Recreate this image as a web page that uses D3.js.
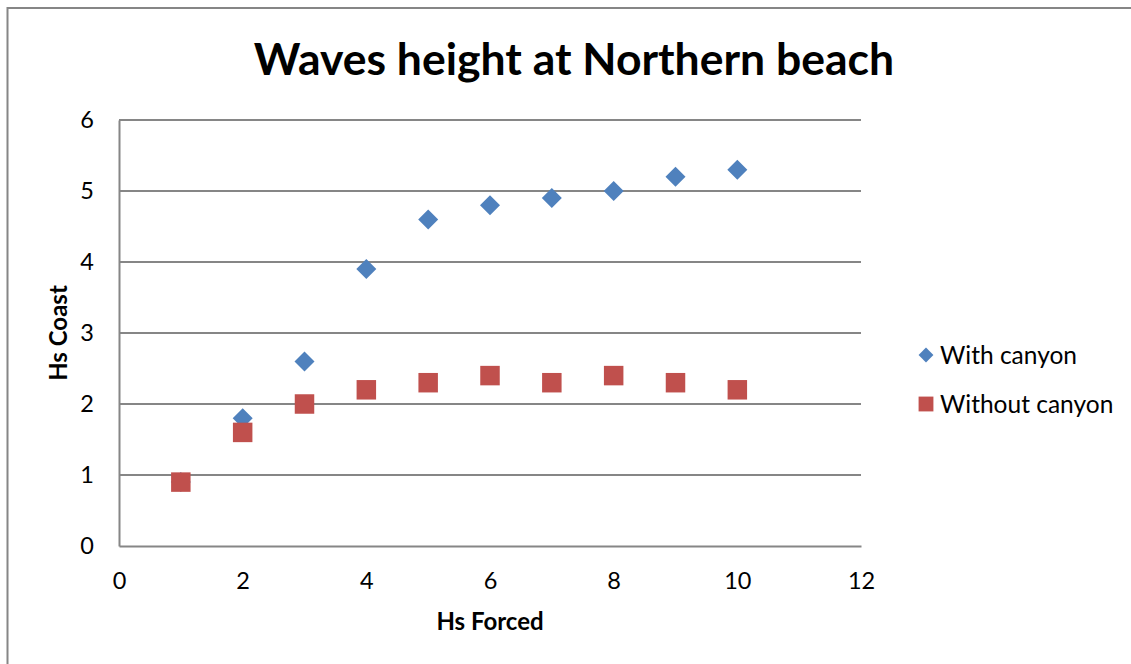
<!DOCTYPE html>
<html>
<head>
<meta charset="utf-8">
<script src="https://cdn.jsdelivr.net/npm/d3@7"></script>
<style>
  body { margin: 0; background: #fff; }
  text { font-family: Lato, "Open Sans", sans-serif; fill: #000; }
</style>
</head>
<body>
<div id="chart"></div>
<script>
// Data
const hsForced = [1, 2, 3, 4, 5, 6, 7, 8, 9, 10];
const withCanyon = [0.9, 1.8, 2.6, 3.9, 4.6, 4.8, 4.9, 5.0, 5.2, 5.3];
const withoutCanyon = [0.9, 1.6, 2.0, 2.2, 2.3, 2.4, 2.3, 2.4, 2.3, 2.2];
const xTicks = [0, 2, 4, 6, 8, 10, 12];
const yTicks = [0, 1, 2, 3, 4, 5, 6];

const width = 1131;
const height = 664;
const margin = { top: 120, right: 270, bottom: 118, left: 119 };

const svg = d3.select("#chart")
    .append("svg")
    .attr("width", width)
    .attr("height", height);

// outer chart border
svg.append("rect")
    .attr("x", 7.5).attr("y", 8)
    .attr("width", 1140).attr("height", 700)
    .attr("fill", "none")
    .attr("stroke", "#868686")
    .attr("stroke-width", 2);

const xScale = d3.scaleLinear()
    .domain([0, 12])
    .range([margin.left, width - margin.right]);

const yScale = d3.scaleLinear()
    .domain([0, 6])
    .range([height - margin.bottom, margin.top]);

// gridlines
svg.append("g")
    .selectAll("line")
    .data(yTicks.filter(d => d > 0))
    .enter()
    .append("line")
    .attr("x1", xScale(0)).attr("x2", xScale(12))
    .attr("y1", d => yScale(d)).attr("y2", d => yScale(d))
    .attr("stroke", "#868686")
    .attr("stroke-width", 2);

// axes
const xAxis = svg.append("g")
    .attr("transform", `translate(0,${yScale(0)})`)
    .call(d3.axisBottom(xScale).tickValues(xTicks).tickFormat(d3.format("d")).tickSize(0).tickPadding(25));
const yAxis = svg.append("g")
    .attr("transform", `translate(${xScale(0)},0)`)
    .call(d3.axisLeft(yScale).tickValues(yTicks).tickFormat(d3.format("d")).tickSize(0).tickPadding(25));

[xAxis, yAxis].forEach(a => {
    a.select(".domain").attr("stroke", "#868686").attr("stroke-width", 2);
    a.selectAll("text").style("font-size", "23.5px").style("font-family", "Lato, sans-serif").attr("fill", "#000");
});
xAxis.selectAll("text").attr("dy", "0.35em").attr("y", 35);

// title
svg.append("text")
    .attr("x", 574)
    .attr("y", 75)
    .attr("text-anchor", "middle")
    .style("font-size", "44.5px")
    .style("font-weight", "bold")
    .text("Waves height at Northern beach");

// axis titles
svg.append("text")
    .attr("x", 490)
    .attr("y", 630)
    .attr("text-anchor", "middle")
    .style("font-size", "24px")
    .style("font-weight", "bold")
    .text("Hs Forced");

svg.append("text")
    .attr("transform", `translate(67,333) rotate(-90)`)
    .attr("text-anchor", "middle")
    .style("font-size", "24px")
    .style("font-weight", "bold")
    .text("Hs Coast");

const blue = "#4F81BD";
const red = "#C0504D";
const diamond = d3.symbol().type(d3.symbolSquare).size(200);
const square = d3.symbol().type(d3.symbolSquare).size(380);

// points
svg.append("g")
    .selectAll("path")
    .data(hsForced.map((x, i) => ({ x, y: withCanyon[i] })))
    .enter()
    .append("path")
    .attr("d", diamond)
    .attr("transform", d => `translate(${xScale(d.x)},${yScale(d.y)}) rotate(45)`)
    .attr("fill", blue);

svg.append("g")
    .selectAll("path")
    .data(hsForced.map((x, i) => ({ x, y: withoutCanyon[i] })))
    .enter()
    .append("path")
    .attr("d", square)
    .attr("transform", d => `translate(${xScale(d.x)},${yScale(d.y)})`)
    .attr("fill", red);

// legend
const legend = [
    { name: "With canyon", color: blue, rot: 45, size: 110, y: 355 },
    { name: "Without canyon", color: red, rot: 0, size: 220, y: 404 }
];
const lg = svg.append("g")
    .selectAll("g")
    .data(legend)
    .enter()
    .append("g")
    .attr("transform", d => `translate(926,${d.y})`);
lg.append("path")
    .attr("d", d => d3.symbol().type(d3.symbolSquare).size(d.size)())
    .attr("transform", d => `rotate(${d.rot})`)
    .attr("fill", d => d.color);
lg.append("text")
    .attr("x", 14)
    .attr("dy", "0.35em")
    .style("font-size", "24.5px")
    .text(d => d.name);
</script>
</body>
</html>
